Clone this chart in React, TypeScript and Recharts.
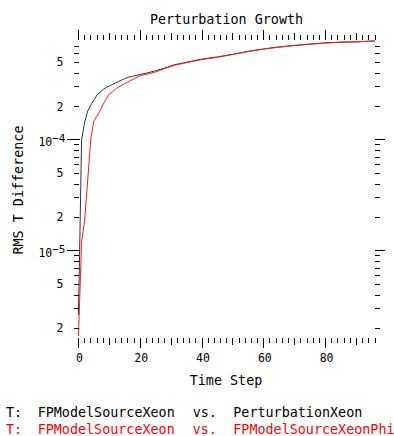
import React from "react";
import { LineChart, Line, XAxis, YAxis } from "recharts";

// time steps (dense at the start where the curves climb fast)
const timeSteps = [
  0, 1, 2, 3, 4, 5, 6, 7, 8, 9, 10, 11, 12, 13, 14, 15, 16, 17, 18, 19, 20,
  22, 25, 28, 31, 34, 37, 40, 45, 50, 55, 60, 65, 70, 75, 80, 85, 90, 96,
];

// T: FPModelSourceXeon vs. PerturbationXeon (black)
const vsPerturbationXeon = [
  2.65e-6, 1.0e-4, 1.45e-4, 1.83e-4, 2.07e-4, 2.29e-4, 2.54e-4, 2.7e-4, 2.85e-4, 2.97e-4, 3.06e-4,
  3.16e-4, 3.26e-4, 3.37e-4, 3.47e-4, 3.57e-4, 3.66e-4, 3.72e-4, 3.77e-4, 3.83e-4, 3.89e-4,
  4.0e-4, 4.2e-4, 4.45e-4, 4.75e-4, 4.95e-4, 5.15e-4, 5.35e-4, 5.6e-4, 5.9e-4, 6.3e-4, 6.6e-4,
  6.9e-4, 7.1e-4, 7.3e-4, 7.5e-4, 7.6e-4, 7.65e-4, 7.8e-4,
];

// T: FPModelSourceXeon vs. FPModelSourceXeonPhi (red)
const vsXeonPhi = [
  1.7e-6, 1.2e-5, 1.9e-5, 4.4e-5, 1.04e-4, 1.48e-4, 1.64e-4, 1.83e-4, 2.11e-4, 2.34e-4, 2.6e-4,
  2.7e-4, 2.88e-4, 3.0e-4, 3.1e-4, 3.22e-4, 3.33e-4, 3.45e-4, 3.55e-4, 3.68e-4, 3.8e-4,
  3.9e-4, 4.1e-4, 4.4e-4, 4.7e-4, 4.9e-4, 5.1e-4, 5.3e-4, 5.55e-4, 5.9e-4, 6.25e-4, 6.6e-4,
  6.85e-4, 7.1e-4, 7.3e-4, 7.45e-4, 7.6e-4, 7.65e-4, 7.8e-4,
];

const xDomain: [number, number] = [0, 96];
const yDomain: [number, number] = [1.64e-6, 7.95e-4];
const xLabels = [0, 20, 40, 60, 80];
const yLabelMantissas = [2, 5];

const xTicks = Array.from({ length: 49 }, (_, i) => i * 2);
const yTicks: number[] = [];
for (let e = -6; e <= -4; e++) {
  for (let m = 1; m <= 9; m++) {
    const v = m * Math.pow(10, e);
    if (v >= yDomain[0] && v <= yDomain[1]) yTicks.push(v);
  }
}

const rows = timeSteps.map((t, i) => ({
  t,
  pert: vsPerturbationXeon[i],
  phi: vsXeonPhi[i],
}));

const MONO = '"DejaVu Sans Mono", monospace';

function splitLog(v: number) {
  const e = Math.floor(Math.log10(v) + 1e-9);
  const m = Math.round(v / Math.pow(10, e));
  return { e, m };
}

function xTickLen(v: number) {
  if (v % 20 === 0) return 10;
  if (v % 10 === 0) return 7;
  return 5;
}

function BottomTick({ x, y, payload }: any) {
  const v = payload.value;
  return (
    <g>
      <line x1={x} x2={x} y1={y} y2={y + xTickLen(v)} stroke="#000" shapeRendering="crispEdges" />
      {xLabels.includes(v) && (
        <text x={x + 1} y={y + 24} textAnchor="middle" fontFamily={MONO} fontSize={11.5} fill="#000">
          {v}
        </text>
      )}
    </g>
  );
}

function TopTick({ x, y, payload }: any) {
  const v = payload.value;
  return <line x1={x} x2={x} y1={y} y2={y - xTickLen(v)} stroke="#000" shapeRendering="crispEdges" />;
}

function LeftTick({ x, y, payload }: any) {
  const { e, m } = splitLog(payload.value);
  const decade = m === 1;
  return (
    <g>
      <line
        x1={x - (decade ? 12 : 5)}
        x2={x + (decade ? 1 : 0)}
        y1={y}
        y2={y}
        stroke="#000"
        shapeRendering="crispEdges"
      />
      {decade && (
        <text x={x - 13} y={y + 6} textAnchor="end" fontFamily={MONO} fontSize={11.5} fill="#000">
          10
          <tspan dy={-4} fontSize={11}>
            {"\u2212" + Math.abs(e)}
          </tspan>
        </text>
      )}
      {yLabelMantissas.includes(m) && (
        <text x={x - 15} y={y + 4} textAnchor="end" fontFamily={MONO} fontSize={11.5} fill="#000">
          {m}
        </text>
      )}
    </g>
  );
}

function RightTick({ x, y, payload }: any) {
  const { m } = splitLog(payload.value);
  return (
    <line x1={x} x2={x + (m === 1 ? 10 : 5)} y1={y} y2={y} stroke="#000" shapeRendering="crispEdges" />
  );
}

export default function App() {
  return (
    <div style={{ position: "absolute", left: 0, top: 0, width: 394, height: 436, background: "#fff" }}>
      <LineChart width={394} height={436} data={rows} margin={{ top: 30, right: 0, bottom: 0, left: 0 }}>
        <XAxis
          xAxisId="bottom"
          dataKey="t"
          type="number"
          domain={xDomain}
          ticks={xTicks}
          interval={0}
          height={98}
          tickSize={0}
          tickMargin={0}
          axisLine={false}
          tickLine={false}
          tick={<BottomTick />}
        />
        <XAxis
          xAxisId="top"
          orientation="top"
          dataKey="t"
          type="number"
          domain={xDomain}
          ticks={xTicks}
          interval={0}
          height={10}
          tickSize={0}
          tickMargin={0}
          axisLine={false}
          tickLine={false}
          tick={<TopTick />}
        />
        <YAxis
          yAxisId="left"
          type="number"
          scale="log"
          domain={yDomain}
          allowDataOverflow
          ticks={yTicks}
          interval={0}
          width={78.5}
          tickSize={0}
          tickMargin={0}
          axisLine={false}
          tickLine={false}
          tick={<LeftTick />}
        />
        <YAxis
          yAxisId="right"
          orientation="right"
          type="number"
          scale="log"
          domain={yDomain}
          allowDataOverflow
          ticks={yTicks}
          interval={0}
          width={19}
          tickSize={0}
          tickMargin={0}
          axisLine={false}
          tickLine={false}
          tick={<RightTick />}
        />
        <Line
          xAxisId="bottom"
          yAxisId="left"
          dataKey="pert"
          stroke="#333"
          strokeWidth={1}
          dot={false}
          isAnimationActive={false}
        />
        <Line
          xAxisId="bottom"
          yAxisId="left"
          dataKey="phi"
          stroke="#ff1a1a"
          strokeWidth={1}
          dot={false}
          isAnimationActive={false}
        />
      </LineChart>
      <svg
        width={394}
        height={436}
        style={{ position: "absolute", left: 0, top: 0, pointerEvents: "none" }}
        fontFamily={MONO}
        fontSize={13.4}
      >
        <text x={226.5} y={24} textAnchor="middle" fill="#000">
          Perturbation Growth
        </text>
        <text x={226} y={385} textAnchor="middle" fill="#000">
          Time Step
        </text>
        <text x={23} y={190} textAnchor="middle" fill="#000" transform="rotate(-90 23 190)">
          RMS T Difference
        </text>
        <g fill="#000">
          <text x={6} y={417}>T:</text>
          <text x={37.7} y={417}>FPModelSourceXeon</text>
          <text x={192.7} y={417}>vs.</text>
          <text x={233.3} y={417}>PerturbationXeon</text>
        </g>
        <g fill="#ff0000">
          <text x={6} y={433.5}>T:</text>
          <text x={37.7} y={433.5}>FPModelSourceXeon</text>
          <text x={192.7} y={433.5}>vs.</text>
          <text x={233.3} y={433.5}>FPModelSourceXeonPhi</text>
        </g>
      </svg>
    </div>
  );
}
